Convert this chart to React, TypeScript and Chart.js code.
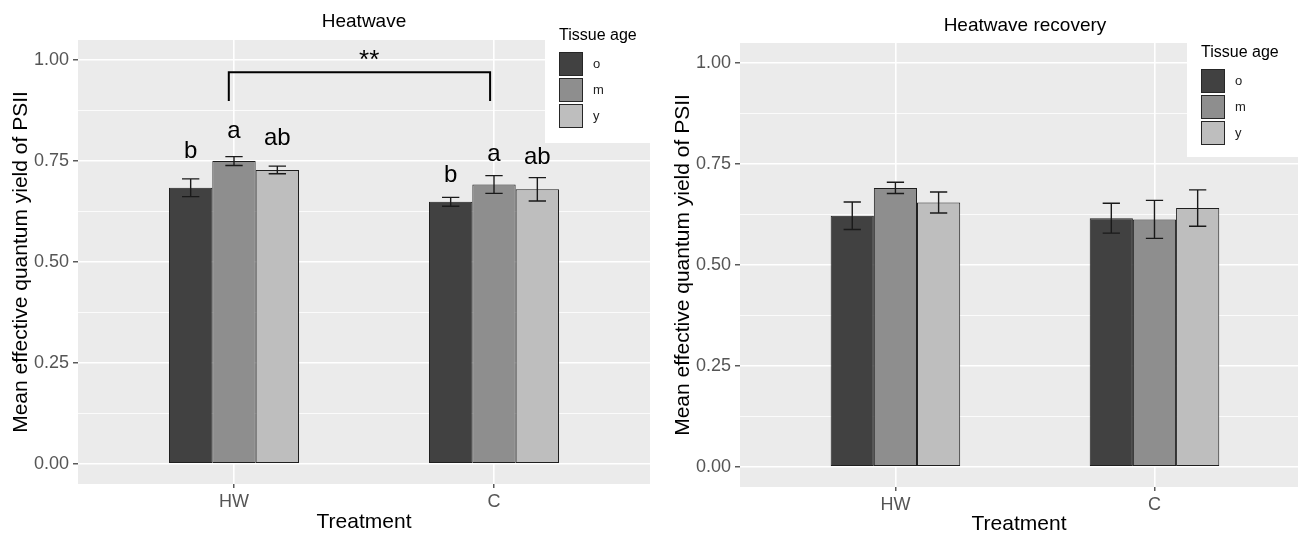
import React, { useEffect, useRef } from 'react';
import { Chart, registerables } from 'chart.js';

Chart.register(...registerables);

const FONT = "'Liberation Sans', Arial, Helvetica, sans-serif";
Chart.defaults.font.family = FONT;

// ---------- data ----------
const treatments = ['HW', 'C'];
const tissueAges = ['o', 'm', 'y'];
const tissueColors = ['#414141', '#8e8e8e', '#bebebe'];
const yMajorTicks = [0, 0.25, 0.5, 0.75, 1.0];
const yMinorTicks = [0.125, 0.375, 0.625, 0.875];
const legendTitle = 'Tissue age';
const xAxisTitle = 'Treatment';
const yAxisTitle = 'Mean effective quantum yield of PSII';

// Heatwave panel (values per treatment: HW, C)
const heatwaveTitle = 'Heatwave';
const heatO = [0.684, 0.649];
const heatM = [0.750, 0.692];
const heatY = [0.728, 0.680];
const heatOse = [0.022, 0.011];
const heatMse = [0.011, 0.022];
const heatYse = [0.0095, 0.029];
const heatOletters = ['b', 'b'];
const heatMletters = ['a', 'a'];
const heatYletters = ['ab', 'ab'];
const heatOletterY = [0.757, 0.697];
const heatMletterY = [0.807, 0.749];
const heatYletterY = [0.789, 0.744];
const sigLabel = '**';
const sigBracketX = [0.98, 1.985];
const sigBracketY = [0.899, 0.97];
const sigLabelPos = [1.52, 0.981];

// Heatwave recovery panel
const recoveryTitle = 'Heatwave recovery';
const recO = [0.622, 0.616];
const recM = [0.691, 0.613];
const recY = [0.655, 0.641];
const recOse = [0.034, 0.037];
const recMse = [0.014, 0.047];
const recYse = [0.026, 0.045];

type LegendSpec = { boxLeft: number; boxBottom: number; x: number; titleY: number; keyTop: number };
type Panel = {
  title: string;
  titleY: number;
  means: number[][];
  ses: number[][];
  letters?: string[][];
  letterY?: number[][];
  bracket?: boolean;
  width: number;
  top: number;
  bottom: number;
  right: number;
  yAxisWidth: number;
  xMax: number;
  yTitlePad: number;
  xTitlePadBottom: number;
  legend: LegendSpec;
};

const isMajor = (v: number) => Math.abs(v * 4 - Math.round(v * 4)) < 1e-6;

function makeConfig(p: Panel): any {
  const H = 534;
  const datasets = tissueAges.map((age, i) => ({
    label: age,
    data: p.means[i].map((v, j) => ({ x: j + 1, y: v })),
    backgroundColor: tissueColors[i],
    borderColor: '#1f1f1f',
    borderWidth: 1,
    borderSkipped: false,
    categoryPercentage: 0.5,
    barPercentage: 1.0,
  }));

  const bgPlugin = {
    id: 'panelBg',
    beforeDraw(chart: any) {
      const { ctx, chartArea } = chart;
      ctx.save();
      ctx.fillStyle = '#EBEBEB';
      ctx.fillRect(chartArea.left, chartArea.top, chartArea.right - chartArea.left, chartArea.bottom - chartArea.top);
      ctx.restore();
    },
  };

  const annoPlugin = {
    id: 'annotations',
    afterDatasetsDraw(chart: any) {
      const { ctx } = chart;
      const xs = chart.scales.x;
      const ys = chart.scales.y;
      ctx.save();
      // error bars
      p.ses.forEach((seArr, i) => {
        const meta = chart.getDatasetMeta(i);
        meta.data.forEach((bar: any, j: number) => {
          const m = p.means[i][j];
          const se = seArr[j];
          const yT = ys.getPixelForValue(m + se);
          const yB = ys.getPixelForValue(m - se);
          const half = bar.width * 0.2;
          ctx.strokeStyle = '#1a1a1a';
          ctx.lineWidth = 1.4;
          ctx.beginPath();
          ctx.moveTo(bar.x, yT);
          ctx.lineTo(bar.x, yB);
          ctx.moveTo(bar.x - half, yT);
          ctx.lineTo(bar.x + half, yT);
          ctx.moveTo(bar.x - half, yB);
          ctx.lineTo(bar.x + half, yB);
          ctx.stroke();
        });
      });
      // significance letters
      if (p.letters && p.letterY) {
        ctx.fillStyle = '#000';
        ctx.font = `24px ${FONT}`;
        ctx.textAlign = 'center';
        ctx.textBaseline = 'alphabetic';
        p.letters.forEach((arr, i) => {
          const meta = chart.getDatasetMeta(i);
          arr.forEach((txt, j) => {
            const bar = meta.data[j];
            ctx.fillText(txt, bar.x, ys.getPixelForValue(p.letterY![i][j]));
          });
        });
      }
      // bracket
      if (p.bracket) {
        const x1 = xs.getPixelForValue(sigBracketX[0]);
        const x2 = xs.getPixelForValue(sigBracketX[1]);
        const yb = ys.getPixelForValue(sigBracketY[0]);
        const yt = ys.getPixelForValue(sigBracketY[1]);
        ctx.strokeStyle = '#000';
        ctx.lineWidth = 2;
        ctx.beginPath();
        ctx.moveTo(x1, yb);
        ctx.lineTo(x1, yt);
        ctx.lineTo(x2, yt);
        ctx.lineTo(x2, yb);
        ctx.stroke();
        ctx.fillStyle = '#000';
        ctx.font = `26px ${FONT}`;
        ctx.textAlign = 'center';
        ctx.textBaseline = 'alphabetic';
        ctx.fillText(sigLabel, xs.getPixelForValue(sigLabelPos[0]), ys.getPixelForValue(sigLabelPos[1]));
      }
      ctx.restore();
    },
    afterDraw(chart: any) {
      const { ctx, width } = chart;
      const xs = chart.scales.x;
      const L = p.legend;
      ctx.save();
      // legend
      ctx.fillStyle = '#ffffff';
      ctx.fillRect(L.boxLeft, 0, width - L.boxLeft, L.boxBottom);
      ctx.fillStyle = '#000';
      ctx.font = `16px ${FONT}`;
      ctx.textAlign = 'left';
      ctx.textBaseline = 'middle';
      ctx.fillText(legendTitle, L.x, L.titleY);
      tissueAges.forEach((age, i) => {
        const y = L.keyTop + i * 26;
        ctx.fillStyle = tissueColors[i];
        ctx.fillRect(L.x, y, 24, 24);
        ctx.strokeStyle = '#262626';
        ctx.lineWidth = 1;
        ctx.strokeRect(L.x + 0.5, y + 0.5, 23, 23);
        ctx.fillStyle = '#222';
        ctx.font = `13px ${FONT}`;
        ctx.fillText(age, L.x + 34, y + 12);
      });
      // panel title
      ctx.fillStyle = '#000';
      ctx.font = `19px ${FONT}`;
      ctx.textAlign = 'center';
      ctx.textBaseline = 'middle';
      ctx.fillText(p.title, xs.getPixelForValue(1.5), p.titleY);
      ctx.restore();
    },
  };

  return {
    type: 'bar',
    data: { datasets },
    options: {
      responsive: false,
      animation: false,
      events: [],
      layout: { padding: { top: p.top, left: 0, right: p.right, bottom: 0 } },
      plugins: { legend: { display: false }, tooltip: { enabled: false }, title: { display: false } },
      scales: {
        x: {
          type: 'linear',
          min: 0.4,
          max: p.xMax,
          offset: false,
          afterFit: (s: any) => { s.height = H - p.bottom; },
          afterBuildTicks: (s: any) => { s.ticks = treatments.map((_, i) => ({ value: i + 1 })); },
          ticks: {
            autoSkip: false,
            maxRotation: 0,
            padding: 3,
            color: '#555555',
            font: { size: 18, family: FONT },
            callback: (v: number) => treatments[Math.round(v) - 1] ?? '',
          },
          grid: { offset: false, color: '#ffffff', lineWidth: 1.6, tickColor: '#333333', tickLength: 4, tickWidth: 1.2 },
          border: { display: false },
          title: {
            display: true,
            text: xAxisTitle,
            color: '#000',
            font: { size: 21, family: FONT, lineHeight: 1 },
            padding: { top: 0, bottom: p.xTitlePadBottom },
          },
        },
        y: {
          type: 'linear',
          min: -0.05,
          max: 1.05,
          afterFit: (s: any) => { s.width = p.yAxisWidth; },
          afterBuildTicks: (s: any) => {
            s.ticks = [...yMajorTicks, ...yMinorTicks].sort((a, b) => a - b).map((v) => ({ value: v }));
          },
          ticks: {
            autoSkip: false,
            padding: 4,
            color: '#555555',
            font: { size: 18, family: FONT },
            callback: (v: number) => (isMajor(v) ? v.toFixed(2) : ''),
          },
          grid: {
            color: '#ffffff',
            lineWidth: (c: any) => (c.tick && isMajor(c.tick.value) ? 1.6 : 0.8),
            tickColor: (c: any) => (c.tick && isMajor(c.tick.value) ? '#333333' : 'rgba(0,0,0,0)'),
            tickLength: 5,
            tickWidth: 1.2,
          },
          border: { display: false },
          title: {
            display: true,
            text: yAxisTitle,
            color: '#000',
            font: { size: 21, family: FONT, lineHeight: 1.2 },
            padding: { top: p.yTitlePad, bottom: 0 },
          },
        },
      },
    },
    plugins: [bgPlugin, annoPlugin],
  };
}

const leftPanel: Panel = {
  title: heatwaveTitle,
  titleY: 21.5,
  means: [heatO, heatM, heatY],
  ses: [heatOse, heatMse, heatYse],
  letters: [heatOletters, heatMletters, heatYletters],
  letterY: [heatOletterY, heatMletterY, heatYletterY],
  bracket: true,
  width: 660,
  top: 40,
  bottom: 484,
  right: 10,
  yAxisWidth: 78,
  xMax: 2.6,
  yTitlePad: 9,
  xTitlePadBottom: 1.5,
  legend: { boxLeft: 545, boxBottom: 143, x: 559, titleY: 36, keyTop: 52 },
};

const rightPanel: Panel = {
  title: recoveryTitle,
  titleY: 25.5,
  means: [recO, recM, recY],
  ses: [recOse, recMse, recYse],
  width: 638,
  top: 43,
  bottom: 487,
  right: 0,
  yAxisWidth: 80,
  xMax: 2.554,
  yTitlePad: 11,
  xTitlePadBottom: -0.5,
  legend: { boxLeft: 527, boxBottom: 157, x: 541, titleY: 53, keyTop: 69 },
};

function PanelChart({ panel }: { panel: Panel }) {
  const ref = useRef<HTMLCanvasElement | null>(null);
  useEffect(() => {
    if (!ref.current) return;
    const chart = new Chart(ref.current, makeConfig(panel));
    return () => chart.destroy();
  }, [panel]);
  return <canvas ref={ref} width={panel.width} height={534} style={{ display: 'block', width: panel.width, height: 534 }} />;
}

export default function App() {
  return (
    <div style={{ position: 'absolute', left: 0, top: 0, width: 1298, height: 534, background: '#fff', display: 'flex', overflow: 'hidden' }}>
      <PanelChart panel={leftPanel} />
      <PanelChart panel={rightPanel} />
    </div>
  );
}
